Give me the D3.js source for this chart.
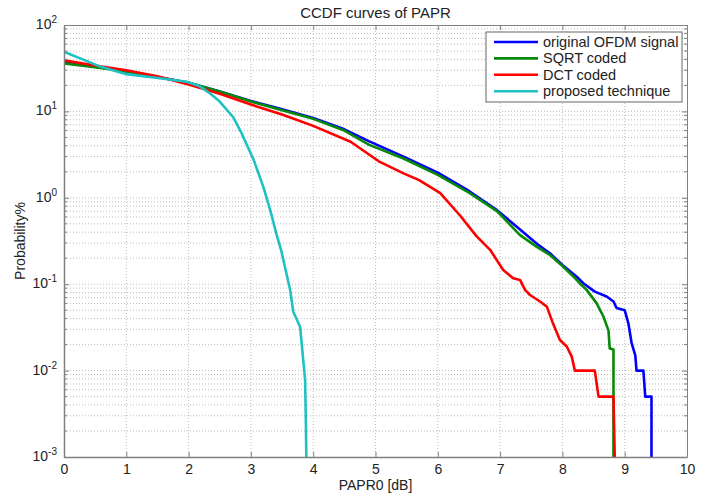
<!DOCTYPE html>
<meta charset="utf-8">
<style>
body { margin: 0; background: #fff; }
text { font-family: "Liberation Sans", Arial, sans-serif; fill: #222; }
.grid line { stroke: #bdbdbd; stroke-width: 1px; stroke-dasharray: 1,2; }
.series { fill: none; stroke-width: 2.6px; stroke-linejoin: round; }
</style>
<svg width="706" height="493"></svg>
<script src="https://cdn.jsdelivr.net/npm/d3@7/dist/d3.min.js"></script>
<script>

var names = ["original OFDM signal", "SQRT coded", "DCT coded", "proposed technique"];
var colors = ["#0000ff", "#078a07", "#ff0000", "#1fc2c2"];

// PAPR0 [dB] / probability %
var ofdmX = [0, 0.5, 1, 1.5, 2, 2.5, 3, 3.5, 4, 4.5, 4.9, 5.45, 6, 6.5, 6.95, 7.32, 7.6, 7.8, 8.0, 8.23, 8.34, 8.52, 8.71, 8.82, 8.87, 9.0, 9.06, 9.11, 9.17, 9.19, 9.30, 9.33, 9.43, 9.43];
var ofdmY = [37, 33, 29, 25, 21.5, 17, 13.2, 10.6, 8.4, 6.2, 4.5, 3.0, 1.95, 1.2, 0.72, 0.43, 0.29, 0.228, 0.167, 0.122, 0.102, 0.082, 0.072, 0.063, 0.053, 0.05, 0.035, 0.021, 0.015, 0.01, 0.01, 0.005, 0.005, 0.001];

var sqrtX = [0, 0.5, 1, 1.5, 2, 2.5, 3, 3.5, 4, 4.5, 4.9, 5.45, 6, 6.5, 6.95, 7.32, 7.59, 7.80, 8.01, 8.18, 8.28, 8.39, 8.55, 8.66, 8.74, 8.76, 8.82, 8.82];
var sqrtY = [36, 32.5, 29, 25, 21.5, 17, 13, 10.3, 8.2, 6.0, 4.1, 2.85, 1.84, 1.15, 0.70, 0.37, 0.27, 0.218, 0.16, 0.122, 0.102, 0.086, 0.060, 0.042, 0.029, 0.018, 0.0175, 0.001];

var dctX = [0, 0.5, 1, 1.5, 2, 2.5, 3, 3.5, 4, 4.6, 5.07, 5.45, 5.7, 6.04, 6.36, 6.62, 6.84, 7.05, 7.21, 7.32, 7.40, 7.48, 7.64, 7.75, 7.85, 7.96, 8.07, 8.15, 8.20, 8.52, 8.58, 8.82, 8.84];
var dctY = [39, 34, 30, 25.5, 20.5, 16, 12, 9.2, 6.8, 4.46, 2.6, 1.92, 1.6, 1.13, 0.62, 0.36, 0.25, 0.146, 0.117, 0.112, 0.086, 0.075, 0.063, 0.055, 0.035, 0.0226, 0.019, 0.0145, 0.01, 0.01, 0.005, 0.005, 0.001];

var propX = [0, 0.3, 0.58, 1.0, 1.54, 1.97, 2.18, 2.35, 2.5, 2.72, 2.85, 3.04, 3.2, 3.31, 3.41, 3.49, 3.57, 3.63, 3.68, 3.73, 3.79, 3.81, 3.84, 3.87, 3.88, 3.89];
var propY = [49, 40, 33, 27, 24.2, 22, 19.5, 16, 13, 8.5, 5.6, 2.8, 1.34, 0.72, 0.38, 0.24, 0.133, 0.086, 0.048, 0.040, 0.032, 0.0226, 0.0133, 0.0078, 0.0032, 0.001];

var xTicks = [0, 1, 2, 3, 4, 5, 6, 7, 8, 9, 10];
var yExps = [-3, -2, -1, 0, 1, 2];

var svg = d3.select("svg"),
    margin = {top: 25, right: 19, bottom: 36, left: 64},
    width = +svg.attr("width") - margin.left - margin.right,
    height = +svg.attr("height") - margin.top - margin.bottom,
    g = svg.append("g").attr("transform", "translate(" + margin.left + "," + margin.top + ")");

var x = d3.scaleLinear().domain([0, 10]).range([0, width]);
var y = d3.scaleLog().domain([1e-3, 1e2]).range([height, 0]);

// minor values in each decade
var minors = [];
yExps.slice(0, -1).forEach(function(e) {
  d3.range(2, 10).forEach(function(k) { minors.push(k * Math.pow(10, e)); });
});
var majors = yExps.map(function(e) { return Math.pow(10, e); });

// grid
var grid = g.append("g").attr("class", "grid");
grid.selectAll(".gx").data(xTicks.slice(1, -1)).enter().append("line")
  .attr("x1", function(d) { return x(d); }).attr("x2", function(d) { return x(d); })
  .attr("y1", 0).attr("y2", height);
grid.selectAll(".gy").data(majors.slice(1, -1).concat(minors)).enter().append("line")
  .attr("x1", 0).attr("x2", width)
  .attr("y1", function(d) { return y(d); }).attr("y2", function(d) { return y(d); });

g.append("defs").append("clipPath").attr("id", "clip")
  .append("rect").attr("width", width).attr("height", height);

var line = d3.line()
  .x(function(d) { return x(d[0]); })
  .y(function(d) { return y(d[1]); });

var series = [[ofdmX, ofdmY], [sqrtX, sqrtY], [dctX, dctY], [propX, propY]].map(function(s) {
  return s[0].map(function(v, i) { return [v, s[1][i]]; });
});

g.append("g").attr("clip-path", "url(#clip)")
  .selectAll("path").data(series).enter().append("path")
  .attr("class", "series")
  .attr("stroke", function(d, i) { return colors[i]; })
  .attr("d", line);

// axes box with inward ticks
var axCol = "#808080";
g.append("g").attr("transform", "translate(0," + height + ")")
  .call(d3.axisBottom(x).tickValues(xTicks).tickSizeInner(-5).tickSizeOuter(0).tickPadding(7).tickFormat(d3.format("d")))
  .call(function(a) {
    a.select(".domain").attr("stroke", axCol).attr("stroke-width", 1.5);
    a.selectAll("line").attr("stroke", axCol);
    a.selectAll("text").attr("font-size", 14).attr("fill", "#222").attr("font-family", "Liberation Sans, Arial, sans-serif");
  });
g.append("g")
  .call(d3.axisTop(x).tickValues(xTicks).tickSizeInner(-5).tickSizeOuter(0).tickFormat(""))
  .call(function(a) {
    a.select(".domain").attr("stroke", axCol);
    a.selectAll("line").attr("stroke", axCol);
  });
[["left", 0, 1.5], ["right", width, 1]].forEach(function(o) {
  var ax = o[0] === "left" ? d3.axisLeft(y) : d3.axisRight(y);
  var ga = g.append("g").attr("transform", "translate(" + o[1] + ",0)");
  ga.call(ax.tickValues(majors).tickSizeInner(-5).tickSizeOuter(0).tickFormat(""));
  ga.select(".domain").attr("stroke", axCol).attr("stroke-width", o[2]);
  ga.selectAll("line").attr("stroke", axCol);
  var dir = o[0] === "left" ? 1 : -1;
  ga.selectAll(".minor").data(minors).enter().append("line")
    .attr("x1", 0).attr("x2", dir * 3)
    .attr("y1", function(d) { return y(d); }).attr("y2", function(d) { return y(d); })
    .attr("stroke", axCol);
});

// y tick labels as 10^n
var yl = g.append("g").selectAll("text").data(yExps).enter().append("text")
  .attr("x", -7).attr("y", function(d) { return y(Math.pow(10, d)) + 4; })
  .attr("text-anchor", "end").attr("font-size", 14);
yl.append("tspan").text("10");
yl.append("tspan").attr("dy", -6).attr("font-size", 10).text(function(d) { return d; });

// titles
svg.append("text").attr("x", margin.left + width / 2).attr("y", 18)
  .attr("text-anchor", "middle").attr("font-size", 15).text("CCDF curves of PAPR");
svg.append("text").attr("x", margin.left + width / 2).attr("y", 490)
  .attr("text-anchor", "middle").attr("font-size", 14).text("PAPR0 [dB]");
svg.append("text").attr("transform", "translate(25," + (margin.top + height / 2) + ") rotate(-90)")
  .attr("text-anchor", "middle").attr("font-size", 14).text("Probability%");

// legend
var leg = svg.append("g").attr("transform", "translate(486,32)");
leg.append("rect").attr("width", 196).attr("height", 70)
  .attr("fill", "#fff").attr("stroke", "#666").attr("stroke-width", 1);
var item = leg.selectAll(".item").data(names).enter().append("g")
  .attr("transform", function(d, i) { return "translate(0," + (10 + i * 16.4) + ")"; });
item.append("line").attr("x1", 8).attr("x2", 52)
  .attr("stroke", function(d, i) { return colors[i]; }).attr("stroke-width", 2.6);
item.append("text").attr("x", 57).attr("y", 5).attr("font-size", 14.5).text(function(d) { return d; });

</script>
